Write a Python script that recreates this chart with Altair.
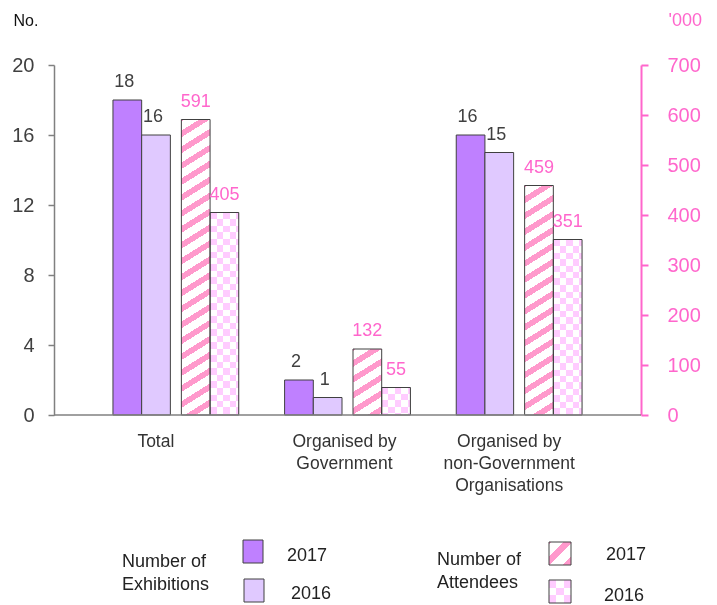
import math
import altair as alt
import pandas as pd

# ---------------- data ----------------
categories = ["Total", "Organised by\nGovernment", "Organised by\nnon-Government\nOrganisations"]
exhibitions_2017 = [18, 2, 16]
exhibitions_2016 = [16, 1, 15]
attendees_2017 = [591, 132, 459]
attendees_2016 = [405, 55, 351]
left_ticks = [0, 4, 8, 12, 16, 20]
right_ticks = [0, 100, 200, 300, 400, 500, 600, 700]

# ---------------- style / layout ----------------
W, H = 587, 350
LEFT_MAX, RIGHT_MAX = 20, 700
PAD_OUT = 0.21
X_DOMAIN = [-0.5 - PAD_OUT, len(categories) - 0.5 + PAD_OUT]
PX = W / (X_DOMAIN[1] - X_DOMAIN[0])
BAR_W = 28.7
GAP = 11.0
E17 = "#BF80FF"
E16 = "#E0C9FF"
STRIPE = "#FF99CC"
CHECK = "#FFCCFF"
PINK = "#FF66CC"
GRAY = "#808080"
OUTLINE = "#404040"
SANS = "Liberation Sans, Arial, sans-serif"

offsets_px = {
    "E2017": -(GAP / 2 + BAR_W * 1.5),
    "E2016": -(GAP / 2 + BAR_W / 2),
    "A2017": GAP / 2 + BAR_W / 2,
    "A2016": GAP / 2 + BAR_W * 1.5,
}
series_values = {
    "E2017": exhibitions_2017,
    "E2016": exhibitions_2016,
    "A2017": attendees_2017,
    "A2016": attendees_2016,
}

rows = []
for s, vals in series_values.items():
    for i, v in enumerate(vals):
        c = i + offsets_px[s] / PX
        rows.append({
            "series": s,
            "group": s[0],
            "cat": i,
            "key": f"{s}_{i}",
            "value": v,
            "label": str(v),
            "xc": c,
            "x0": c - BAR_W / 2 / PX,
            "x1": c + BAR_W / 2 / PX,
        })
df = pd.DataFrame(rows)
exh = df[df.group == "E"]
att = df[df.group == "A"]

label_shift_px = [-20, -3, -10]
cat_df = pd.DataFrame({
    "cat_label": categories,
    "xl": [i + label_shift_px[i] / PX for i in range(len(categories))],
})

xscale = alt.Scale(domain=X_DOMAIN, nice=False, zero=False)
yL = alt.Scale(domain=[0, LEFT_MAX], nice=False)
yR = alt.Scale(domain=[0, RIGHT_MAX], nice=False)


def stripe_grad(w, h, color=STRIPE, bg="#FFFFFF", period=13.5, frac=0.42, theta_deg=32.0):
    t = math.radians(theta_deg)
    sn, cs = math.sin(t), math.cos(t)
    smax = w * sn + h * cs
    K = (w * sn) ** 2 + (h * cs) ** 2
    a = smax / K
    stops = []
    s = -period * 0.3
    while s < smax:
        a0 = max(s, 0.0)
        a1 = min(max(s + frac * period, 0.0), smax)
        a2 = min(max(s + period, 0.0), smax)
        stops += [(a0, color), (a1, color), (a1, bg), (a2, bg)]
        s += period
    return alt.LinearGradient(
        gradient="linear", x1=0, y1=0, x2=a * w * sn, y2=a * h * cs,
        stops=[alt.GradientStop(offset=o / smax, color=c) for o, c in stops],
    )


def band_grad(length, cell, vertical):
    stops = []
    s, k = 0.0, 0
    while s < length:
        c = "#FFFFFF" if k % 2 == 0 else "#000000"
        e = min(s + cell, length)
        stops += [(s / length, c), (e / length, c)]
        s += cell
        k += 1
    return alt.LinearGradient(
        gradient="linear", x1=0, y1=0,
        x2=0 if vertical else 1, y2=1 if vertical else 0,
        stops=[alt.GradientStop(offset=o, color=c) for o, c in stops],
    )


CELL = 6.5

X = alt.X("x0:Q", scale=xscale, axis=None)
X2 = alt.X2("x1:Q")
Y2 = alt.Y2(datum=0)

left_axis = alt.Axis(
    orient="left", values=left_ticks, tickSize=6, tickColor=GRAY, tickWidth=1.5,
    domainColor=GRAY, domainWidth=1.5, labelColor="#404040", labelFont=SANS,
    labelFontSize=20, labelPadding=14, grid=False, title="No.", titleAngle=0,
    titleX=-41, titleY=-45, titleAlign="left", titleBaseline="middle",
    titleColor="#111111", titleFont=SANS, titleFontSize=16, titleFontWeight="normal",
)
right_axis = alt.Axis(
    orient="right", values=right_ticks, tickSize=7, tickColor=PINK, tickWidth=2,
    domainColor=PINK, domainWidth=2, labelColor=PINK, labelFont=SANS,
    labelFontSize=20, labelPadding=19, grid=False, title="'000", titleAngle=0,
    titleX=27, titleY=-45, titleAlign="left", titleBaseline="middle",
    titleColor=PINK, titleFont=SANS, titleFontSize=18, titleFontWeight="normal",
)

# ---------------- exhibitions (left axis) ----------------
exh_bars = alt.Chart(exh).mark_rect(stroke=OUTLINE, strokeWidth=1).encode(
    x=X,
    x2=X2,
    y=alt.Y("value:Q", stack=None, scale=yL, axis=left_axis),
    y2=Y2,
    fill=alt.Fill("series:N", scale=alt.Scale(domain=["E2017", "E2016"], range=[E17, E16]), legend=None),
)
exh_labels = alt.Chart(exh).mark_text(
    font=SANS, fontSize=18, color="#404040", baseline="alphabetic", dy=-13, dx=-3
).encode(
    x=alt.X("xc:Q", scale=xscale, axis=None),
    y=alt.Y("value:Q", stack=None, scale=yL, axis=None),
    text="label:N",
)

# ---------------- attendees (right axis) ----------------
YR = alt.Y("value:Q", stack=None, scale=yR, axis=None)

att_layers = [
    alt.Chart(att).mark_rect(fill="#FFFFFF", strokeWidth=0).encode(
        x=X, x2=X2, y=alt.Y("value:Q", stack=None, scale=yR, axis=right_axis), y2=Y2)
]
for i, v in enumerate(attendees_2017):
    h = v / RIGHT_MAX * H
    att_layers.append(
        alt.Chart(att).transform_filter(alt.datum.key == f"A2017_{i}")
        .mark_rect(fill=stripe_grad(BAR_W, h), strokeWidth=0)
        .encode(x=X, x2=X2, y=YR, y2=Y2)
    )
for i, v in enumerate(attendees_2016):
    h = v / RIGHT_MAX * H
    base = alt.Chart(att).transform_filter(alt.datum.key == f"A2016_{i}")
    att_layers.append(base.mark_rect(fill=band_grad(h, CELL, True), strokeWidth=0).encode(x=X, x2=X2, y=YR, y2=Y2))
    att_layers.append(base.mark_rect(fill=band_grad(BAR_W, CELL, False), strokeWidth=0, blend="difference").encode(x=X, x2=X2, y=YR, y2=Y2))
    att_layers.append(base.mark_rect(fill=CHECK, strokeWidth=0, blend="screen").encode(x=X, x2=X2, y=YR, y2=Y2))
att_layers.append(
    alt.Chart(att).mark_rect(fill="transparent", stroke=OUTLINE, strokeWidth=1).encode(x=X, x2=X2, y=YR, y2=Y2)
)
att_layers.append(
    alt.Chart(att).mark_text(font=SANS, fontSize=18, color=PINK, baseline="alphabetic", dy=-13).encode(
        x=alt.X("xc:Q", scale=xscale, axis=None), y=YR, text="label:N")
)

# ---------------- category axis line and labels ----------------
dummy = pd.DataFrame({"legend": [0]})
baseline_rule = alt.Chart(dummy).mark_rule(color=GRAY, strokeWidth=1.5).encode(
    x=alt.value(0), x2=alt.value(W), y=alt.value(H))

cat_labels = alt.Chart(cat_df).mark_text(
    font=SANS, fontSize=17.5, color="#333333", baseline="top", align="center",
    lineBreak="\n", lineHeight=22,
).encode(
    x=alt.X("xl:Q", scale=xscale, axis=None),
    y=alt.value(368),
    text="cat_label:N",
)

# ---------------- legend ----------------


def swatch(x0, x1, y0, y1, **mark):
    return alt.Chart(dummy).mark_rect(**mark).encode(
        x=alt.value(x0), x2=alt.value(x1), y=alt.value(y0), y2=alt.value(y1))


def legend_text(txt, x, y, size=18, color="#222222"):
    return alt.Chart(pd.DataFrame({"t": [txt]})).mark_text(
        font=SANS, fontSize=size, color=color, align="left", baseline="middle"
    ).encode(x=alt.value(x), y=alt.value(y), text="t:N")


leg = [
    swatch(189, 209, 475, 498, fill=E17, stroke=OUTLINE, strokeWidth=1),
    swatch(190, 210, 514, 537, fill=E16, stroke=OUTLINE, strokeWidth=1),
    swatch(495, 517, 477, 500, fill=stripe_grad(22, 23, period=15, frac=0.42, theta_deg=45), strokeWidth=0),
    swatch(495, 517, 477, 500, fill="transparent", stroke=OUTLINE, strokeWidth=1),
    swatch(495, 517, 515, 538, fill=band_grad(23, 7.6, True), strokeWidth=0),
    swatch(495, 517, 515, 538, fill=band_grad(22, 7.3, False), strokeWidth=0, blend="difference"),
    swatch(495, 517, 515, 538, fill=CHECK, strokeWidth=0, blend="screen"),
    swatch(495, 517, 515, 538, fill="transparent", stroke=OUTLINE, strokeWidth=1),
    legend_text("Number of", 68, 497),
    legend_text("Exhibitions", 68, 520),
    legend_text("Number of", 383, 495),
    legend_text("Attendees", 383, 518),
    legend_text("2017", 233, 491),
    legend_text("2016", 237, 529),
    legend_text("2017", 552, 490),
    legend_text("2016", 550, 531),
]

# flat layering: only two layers carry a y axis (left and right)
all_layers = [exh_bars, exh_labels] + att_layers + [baseline_rule, cat_labels] + leg
chart = alt.layer(*all_layers).resolve_scale(
    y="independent"
).properties(
    width=W, height=H,
    padding={"left": 46, "top": 57, "right": 68, "bottom": 190},
    autosize="none",
    background="#FFFFFF",
).configure_view(strokeWidth=0)

chart.save("out.html", embed_options={"renderer": "svg", "actions": False})
